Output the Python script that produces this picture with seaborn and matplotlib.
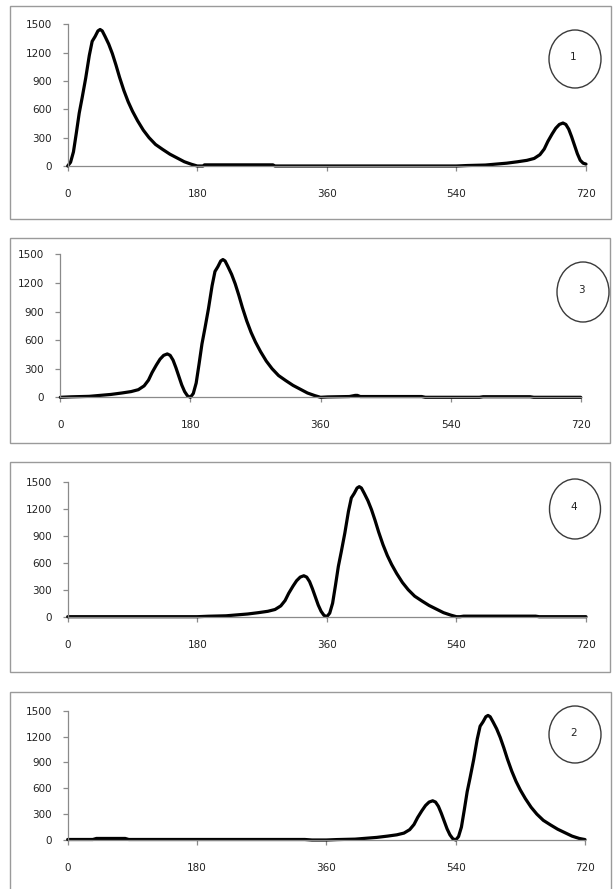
import numpy as np
import pandas as pd
import matplotlib
matplotlib.use("Agg")
import matplotlib.pyplot as plt
from matplotlib.patches import Ellipse, Rectangle
import seaborn as sns

sns.set_style("white")
plt.rcParams["font.family"] = ["DejaVu Sans"]

# ---------------- data ----------------
x_ticks = [0, 180, 360, 540, 720]
y_ticks = [0, 300, 600, 900, 1200, 1500]

# panel "1"
angle_1 = [0, 4, 8, 12, 16, 20, 25, 30, 34, 38, 42, 45, 48, 52, 57, 62, 67, 72, 78, 84,
           90, 97, 105, 113, 122, 132, 142, 152, 162, 172, 180, 188, 190, 285, 288,
           540, 555, 580, 595, 610, 625, 638, 648, 656, 662, 667, 673, 678, 683, 688,
           692, 696, 700, 704, 708, 712, 716, 720]
count_1 = [0, 40, 150, 350, 560, 720, 930, 1170, 1320, 1370, 1430, 1445, 1430, 1370, 1290,
           1190, 1070, 940, 800, 680, 580, 480, 380, 300, 228, 175, 125, 85, 45, 18, 0, 0,
           12, 12, 0, 0, 5, 10, 20, 30, 45, 60, 80, 120, 180, 260, 340, 400, 440, 455,
           440, 390, 310, 220, 130, 60, 30, 20]

# panel "3"
angle_3 = [0, 15, 40, 55, 70, 85, 98, 108, 116, 122, 127, 133, 138, 143, 148, 152, 156, 160,
           164, 168, 172, 176, 180, 184, 188, 192, 196, 200, 205, 210, 214, 218, 222, 225,
           228, 232, 237, 242, 247, 252, 258, 264, 270, 277, 285, 293, 302, 312, 322, 332,
           342, 352, 360, 370, 400, 408, 411, 415, 500, 505, 580, 585, 650, 655, 720]
count_3 = [0, 5, 10, 20, 30, 45, 60, 80, 120, 180, 260, 340, 400, 440, 455, 440, 390, 310,
           220, 130, 60, 15, 0, 40, 150, 350, 560, 720, 930, 1170, 1320, 1370, 1430, 1445,
           1430, 1370, 1290, 1190, 1070, 940, 800, 680, 580, 480, 380, 300, 228, 175, 125,
           85, 45, 18, 0, 4, 8, 20, 20, 8, 8, 0, 0, 6, 6, 0, 0]

# panel "4"
angle_4 = [0, 180, 195, 220, 235, 250, 265, 278, 288, 296, 302, 307, 313, 318, 323, 328, 332,
           336, 340, 344, 348, 352, 356, 360, 364, 368, 372, 376, 380, 385, 390, 394, 398,
           402, 405, 408, 412, 417, 422, 427, 432, 438, 444, 450, 457, 465, 473, 482, 492,
           502, 512, 522, 532, 540, 545, 550, 650, 655, 720]
count_4 = [0, 0, 5, 10, 20, 30, 45, 60, 80, 120, 180, 260, 340, 400, 440, 455, 440, 390,
           310, 220, 130, 60, 15, 0, 40, 150, 350, 560, 720, 930, 1170, 1320, 1370, 1430,
           1445, 1430, 1370, 1290, 1190, 1070, 940, 800, 680, 580, 480, 380, 300, 228, 175,
           125, 85, 45, 18, 0, 0, 6, 6, 0, 0]

# panel "2"
angle_2 = [0, 35, 40, 80, 85, 180, 330, 340, 360, 375, 400, 415, 430, 445, 458, 468, 476,
           482, 487, 493, 498, 503, 508, 512, 516, 520, 524, 528, 532, 536, 540, 544, 548,
           552, 556, 560, 565, 570, 574, 578, 582, 585, 588, 592, 597, 602, 607, 612, 618,
           624, 630, 637, 645, 653, 662, 672, 682, 692, 702, 712, 720]
count_2 = [6, 6, 18, 18, 6, 6, 6, 0, 0, 5, 10, 20, 30, 45, 60, 80, 120, 180, 260, 340, 400,
           440, 455, 440, 390, 310, 220, 130, 60, 15, 0, 40, 150, 350, 560, 720, 930, 1170,
           1320, 1370, 1430, 1445, 1430, 1370, 1290, 1190, 1070, 940, 800, 680, 580, 480,
           380, 300, 228, 175, 125, 85, 45, 18, 5]

panel_labels = ["1", "3", "4", "2"]

# ---------------- layout (pixels) ----------------
W, H = 614, 889
fig = plt.figure(figsize=(W / 100, H / 100), dpi=100)
fig.patch.set_facecolor("white")

# axes: (left, right, y_zero, y_top)
axes_px = [(67.7, 586.0, 166.0, 24.3),
           (60.3, 580.7, 397.3, 254.3),
           (67.7, 586.0, 616.7, 481.7),
           (67.7, 585.0, 840.0, 710.7)]
boxes_px = [(10, 610.7, 6, 219), (10, 610, 237.7, 443),
            (10, 610, 462, 672), (10, 610.7, 692, 900)]
circles_px = [(575, 59, 52, 58), (583, 292, 52, 60),
              (575, 509, 51, 60), (575, 734.5, 52, 57)]

series = [(angle_1, count_1), (angle_3, count_3), (angle_4, count_4), (angle_2, count_2)]

axis_grey = "#8a8a8a"
txt = "#222222"

for i, ((xs, ys), (l, r, y0, y1), (bl, br, bt, bb), (cx, cy, cw, ch)) in enumerate(
        zip(series, axes_px, boxes_px, circles_px)):
    # panel border
    fig.patches.append(Rectangle((bl / W, 1 - bb / H), (br - bl) / W, (bb - bt) / H,
                                 transform=fig.transFigure, fill=False,
                                 edgecolor="#9a9a9a", lw=1.0, zorder=0))
    ax = fig.add_axes([l / W, 1 - y0 / H, (r - l) / W, (y0 - y1) / H])
    ax.set_facecolor("none")
    df = pd.DataFrame({"angle": xs, "count": ys})
    sns.lineplot(data=df, x="angle", y="count", ax=ax, color="black", lw=2.3,
                 sort=False, estimator=None)
    for ln in ax.lines:
        ln.set_clip_on(False)
        ln.set_solid_joinstyle("round")
        ln.set_solid_capstyle("round")
    ax.set_xlim(0, 720)
    ax.set_ylim(0, 1500)
    ax.set_xticks(x_ticks)
    ax.set_yticks(y_ticks)
    ax.set_xticklabels([str(t) for t in x_ticks])
    ax.set_yticklabels([str(t) for t in y_ticks])
    ax.set_xlabel("")
    ax.set_ylabel("")
    for s in ["top", "right"]:
        ax.spines[s].set_visible(False)
    for s in ["left", "bottom"]:
        ax.spines[s].set_color(axis_grey)
        ax.spines[s].set_linewidth(0.9)
    ax.tick_params(axis="y", direction="out", length=3.6, width=0.9, color=axis_grey,
                   pad=8, labelsize=7.5, labelcolor=txt, left=True)
    ax.tick_params(axis="x", direction="out", length=3.6, width=0.9, color=axis_grey,
                   pad=13, labelsize=7.5, labelcolor=txt, bottom=True)
    # numbered circle
    fig.patches.append(Ellipse((cx / W, 1 - cy / H), cw / W, ch / H,
                               transform=fig.transFigure, fill=False,
                               edgecolor="#3a3a3a", lw=1.0))
    fig.text(cx / W - 1.5 / W, 1 - (cy - 2) / H, panel_labels[i], ha="center",
             va="center", fontsize=7.5, color=txt)

fig.savefig("out.png", dpi=100)
